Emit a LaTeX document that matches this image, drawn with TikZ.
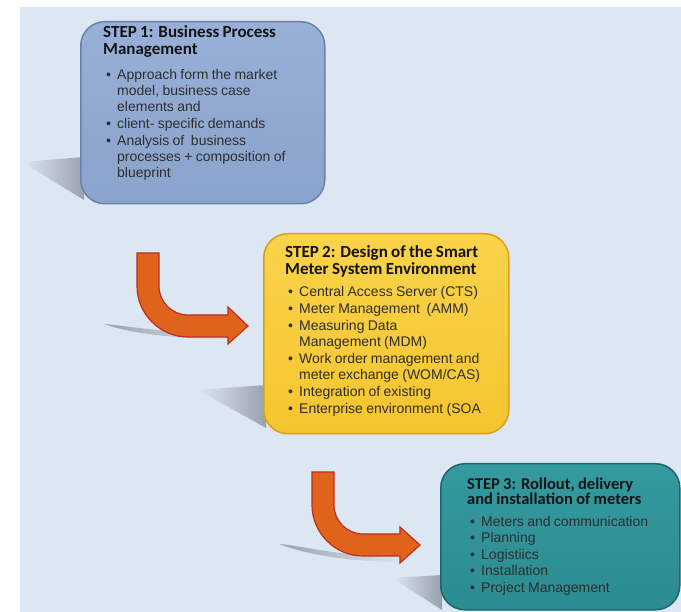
\documentclass[tikz,border=0pt]{standalone}
\usepackage{fontspec}
\setmainfont{Liberation Sans}
\newfontfamily\carl{Carlito}
\definecolor{bgc}{HTML}{DDE7F2}
\definecolor{shc}{HTML}{99A1AD}
\definecolor{b1fill}{HTML}{8AA3CC}
\definecolor{b1top}{HTML}{98B0D7}
\definecolor{b1line}{HTML}{6A82AA}
\definecolor{b2fill}{HTML}{F5C52E}
\definecolor{b2top}{HTML}{F9D34A}
\definecolor{b2line}{HTML}{D8A020}
\definecolor{b3fill}{HTML}{2B8C91}
\definecolor{b3top}{HTML}{349AA0}
\definecolor{b3line}{HTML}{1C676B}
\definecolor{arrfill}{HTML}{E0631C}
\definecolor{arrline}{HTML}{BE2E22}
\definecolor{titlec}{HTML}{141414}
\definecolor{bodyc}{HTML}{2E2E2E}
\newcommand\ttl{\carl\bfseries\fontsize{17}{17}\selectfont\color{titlec}}
\newcommand\bdy{\normalfont\fontsize{14}{16}\selectfont\color{bodyc}}
\newcommand\bitem{\par\vspace{1pt}\hangindent=14pt\hangafter=1\noindent\hbox to 14pt{\hspace{3pt}\textbullet\hfil}}
\newcommand\nl{\hfil\break}
\begin{document}
\begin{tikzpicture}[x=1pt,y=-1pt,
  stepbox/.style={line width=1.5pt, rounded corners=24pt, anchor=north west},
  txt/.style={inner sep=0pt, anchor=base west, text width=235pt},
  shadowshape/.style={left color=bgc, right color=shc},
  blockarrow/.style={fill=arrfill, draw=arrline, line width=1.2pt, line join=miter}]
\useasboundingbox (0,0) rectangle (681,612);
\fill[white] (0,0) rectangle (681,612);
\fill[bgc] (20,7) rectangle (681,612);
% box shadows
\shade[shadowshape] (22,162) -- (84,157) -- (84,200) -- cycle;
\shade[shadowshape] (198,390) -- (266,385) -- (266,428) -- cycle;
\shade[shadowshape] (392,578) -- (442,575) -- (442,610) -- cycle;
% arrow shadows
\shade[left color=shc, right color=bgc] (104,324) .. controls (130,326) and (160,333) .. (228,333) -- (228,339) .. controls (170,339) and (125,332) .. (104,324) -- cycle;
\shade[left color=shc, right color=bgc] (279,544) .. controls (305,546) and (335,556) .. (403,557) -- (403,562) .. controls (340,562) and (300,552) .. (279,544) -- cycle;
% boxes
\node[stepbox, draw=b1line, top color=b1top, bottom color=b1fill, minimum width=244pt, minimum height=182pt] (b1) at (80,21) {};
\node[stepbox, draw=b2line, top color=b2top, bottom color=b2fill, minimum width=245pt, minimum height=200pt] (b2) at (263,233) {};
\node[stepbox, draw=b3line, top color=b3top, bottom color=b3fill, minimum width=239pt, minimum height=146pt] (b3) at (440,463) {};
% arrows
\draw[blockarrow] (137,253) -- (159,253) -- (159,286) .. controls (159,302) and (172,315) .. (188,315) -- (228,315) -- (228,307) -- (248,326) -- (228,344) -- (228,337) -- (188,337) .. controls (160,337) and (137,314) .. (137,286) -- cycle;
\draw[blockarrow] (312,472) -- (334,472) -- (334,505) .. controls (334,521) and (347,534) .. (363,534) -- (400,534) -- (400,527) -- (420,545) -- (400,563) -- (400,556) -- (363,556) .. controls (335,556) and (312,533) .. (312,505) -- cycle;
% texts
\node[txt] (t1) at (103,38) {\parskip=0pt\parindent=0pt\rightskip=0pt plus 1fil\ttl STEP 1: Business Process\nl Management\par\vspace{8pt}\bdy
\bitem Approach form the market\nl model, business case\nl elements and
\bitem client- specific demands
\bitem Analysis of\ \ business\nl processes + composition of\nl blueprint\par};
\node[txt] (t2) at (285,258) {\parskip=0pt\parindent=0pt\rightskip=0pt plus 1fil\ttl STEP 2: Design of the Smart\nl Meter System Environment\par\vspace{5pt}\bdy
\bitem Central Access Server (CTS)
\bitem Meter Management\ \ (AMM)
\bitem Measuring Data\nl Management (MDM)
\bitem Work order management and\nl meter exchange (WOM/CAS)
\bitem Integration of existing
\bitem Enterprise environment (SOA\par};
\node[txt] (t3) at (467,490) {\parskip=0pt\parindent=0pt\rightskip=0pt plus 1fil\ttl\fontsize{16.5}{15}\selectfont STEP 3: Rollout, delivery\nl and installation of meters\par\vspace{5pt}\bdy\fontsize{14}{15.5}\selectfont
\bitem Meters and communication
\bitem Planning
\bitem Logistiics
\bitem Installation
\bitem Project Management\par};
\end{tikzpicture}
\end{document}
